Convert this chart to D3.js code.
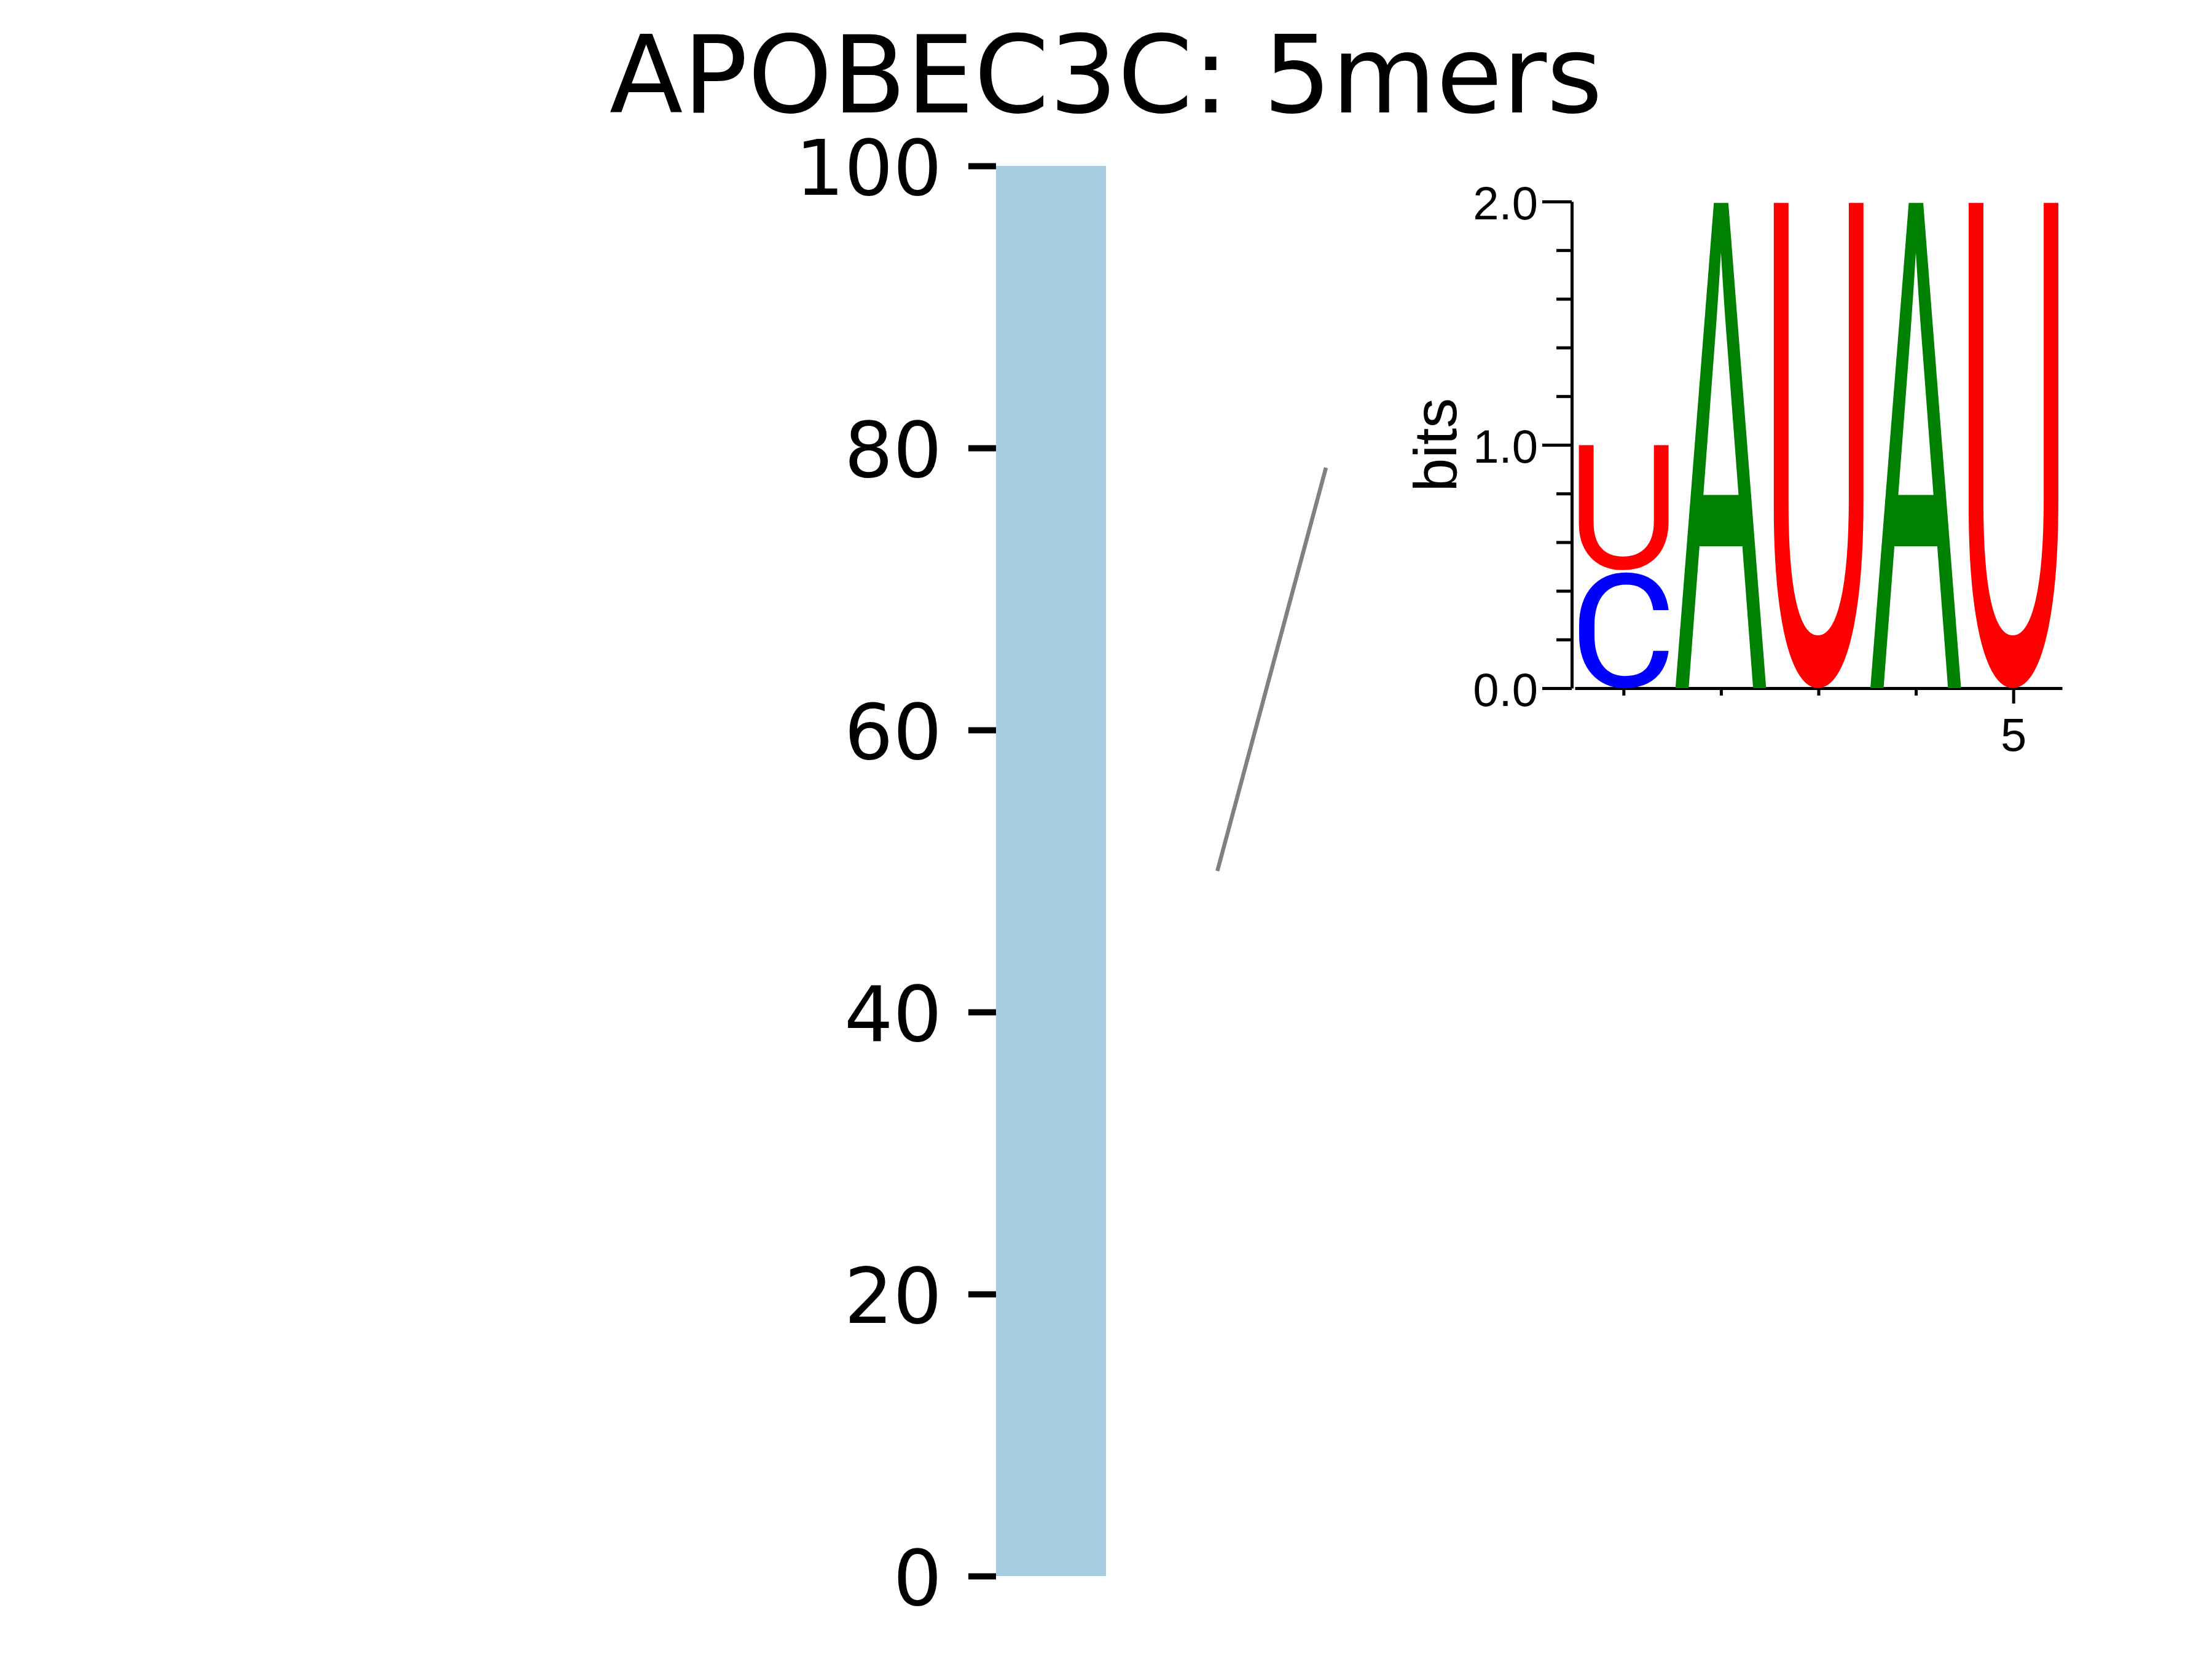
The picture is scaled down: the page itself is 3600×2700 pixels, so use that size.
<html>
<head>
	<meta charset="utf-8">
	<title>APOBEC3C: 5mers</title>
</head>

<style>
body{
	margin: 0;
	background: white;
}
.title{
	font-family: "DejaVu Sans";
	font-size: 175px;
	fill: black;
}
.bar{
	fill: #a6cee3;
}
.mainAxis text{
	font-family: "DejaVu Sans";
	font-size: 125px;
	fill: black;
}
.mainAxis line{
	stroke: black;
	stroke-width: 10px;
}
.logoAxis text{
	font-family: "Liberation Sans";
	font-size: 76px;
	fill: black;
}
.logoAxis line, .logoAxis path{
	stroke: black;
	stroke-width: 5px;
	fill: none;
}
.connector{
	stroke: #808080;
	stroke-width: 6.5px;
}
</style>

<body>

<script src="https://d3js.org/d3.v7.min.js" charset="utf-8"></script>
<script>

// ---- data ----
var title = "APOBEC3C: 5mers";

var barLabels = ["5mers"];
var barHeights = [100];
var yTicks = [0, 20, 40, 60, 80, 100];

// logo: information per position (bits)
var logoPositions = [1, 2, 3, 4, 5];
var bitsA = [0, 2.0, 0, 2.0, 0];
var bitsC = [0.48, 0, 0, 0, 0];
var bitsG = [0, 0, 0, 0, 0];
var bitsU = [0.52, 0, 2.0, 0, 2.0];
var logoYTicks = [0, 1, 2];
var logoYMinorTicks = [0.2, 0.4, 0.6, 0.8, 1.2, 1.4, 1.6, 1.8];
var logoXTicks = [5];
var logoXMinorTicks = [1, 2, 3, 4];

// grey connector line (main axes units)
var connectorX = [1.21, 2.0];
var connectorY = [50, 78.6];

var letterColor = { A: "#008000", C: "#0000ff", G: "#ffa500", U: "#ff0000" };
// closest installed shapes to the original glyphs
var letterFont = { A: "Liberation Sans", C: "Roboto", G: "Liberation Sans", U: "Liberation Sans" };

// ---- layout ----
var width = 3600;
var height = 2700;

var svg = d3.select("body").append("svg")
			.attr("width", width)
			.attr("height", height);

svg.append("text")
	.attr("class", "title")
	.attr("x", width / 2)
	.attr("y", 183)
	.attr("text-anchor", "middle")
	.text(title);

// main bar axes
var xMain = d3.scaleLinear().domain([-0.4, 0.4]).range([1621, 1800]);
var yMain = d3.scaleLinear().domain([0, 100]).range([2565, 270]);

svg.selectAll(".bar")
	.data(barHeights)
	.enter().append("rect")
	.attr("class", "bar")
	.attr("x", function(d, i){ return xMain(i - 0.4); })
	.attr("width", function(d, i){ return xMain(i + 0.4) - xMain(i - 0.4); })
	.attr("y", function(d){ return yMain(d); })
	.attr("height", function(d){ return yMain(0) - yMain(d); });

var mainAxis = svg.append("g")
	.attr("class", "mainAxis")
	.attr("transform", "translate(" + xMain(-0.4) + ",0)")
	.call(d3.axisLeft(yMain).tickValues(yTicks).tickSize(45).tickPadding(43));
mainAxis.select(".domain").remove();
mainAxis.selectAll("text").attr("dy", "0.37em");

svg.append("line")
	.attr("class", "connector")
	.attr("x1", xMain(connectorX[0]))
	.attr("y1", yMain(connectorY[0]))
	.attr("x2", xMain(connectorX[1]))
	.attr("y2", yMain(connectorY[1]));

// logo axes
var xLogo = d3.scaleLinear().domain([0.5, 5.5]).range([2563, 3356]);
var yLogo = d3.scaleLinear().domain([0, 2]).range([1120, 328]);
var ySpineX = 2558;

var gy = svg.append("g")
	.attr("class", "logoAxis")
	.attr("transform", "translate(" + ySpineX + ",0)")
	.call(d3.axisLeft(yLogo).tickValues(logoYTicks).tickFormat(d3.format(".1f"))
		.tickSize(48).tickSizeOuter(0).tickPadding(7));
gy.selectAll("text").attr("dy", "0.37em");

svg.append("g")
	.attr("class", "logoAxis")
	.attr("transform", "translate(" + ySpineX + ",0)")
	.call(d3.axisLeft(yLogo).tickValues(logoYMinorTicks).tickFormat("").tickSize(25))
	.select(".domain").remove();

svg.append("g")
	.attr("class", "logoAxis")
	.attr("transform", "translate(0," + yLogo(0) + ")")
	.call(d3.axisBottom(xLogo).tickValues(logoXTicks).tickFormat(d3.format("d"))
		.tickSize(25).tickSizeOuter(0).tickPadding(23));

svg.append("g")
	.attr("class", "logoAxis")
	.attr("transform", "translate(0," + yLogo(0) + ")")
	.call(d3.axisBottom(xLogo).tickValues(logoXMinorTicks).tickFormat("").tickSize(12))
	.select(".domain").remove();

svg.append("text")
	.attr("class", "logoAxis")
	.attr("transform", "translate(2370," + ((yLogo(0) + yLogo(2)) / 2) + ") rotate(-90)")
	.attr("text-anchor", "middle")
	.style("font-family", "Liberation Sans")
	.style("font-size", "98px")
	.text("bits");

// glyphs: measure ink box of each letter, then stretch it into its stack box
var ctx = document.createElement("canvas").getContext("2d");
var glyphFont = 100;

function inkBox(ch, fam){
	ctx.font = glyphFont + "px '" + fam + "'";
	var m = ctx.measureText(ch);
	return {
		left: -m.actualBoundingBoxLeft,
		right: m.actualBoundingBoxRight,
		top: -m.actualBoundingBoxAscent,
		bottom: m.actualBoundingBoxDescent
	};
}

var glyphs = [];
logoPositions.forEach(function(p, i){
	var col = [
		{ letter: "A", bits: bitsA[i] },
		{ letter: "C", bits: bitsC[i] },
		{ letter: "G", bits: bitsG[i] },
		{ letter: "U", bits: bitsU[i] }
	].filter(function(d){ return d.bits > 0; });
	// smallest at the bottom
	col.sort(function(a, b){ return a.bits - b.bits; });
	var total = d3.sum(col, function(d){ return d.bits; });
	var floor = 0;
	col.forEach(function(d){
		glyphs.push({ pos: p, letter: d.letter, floor: floor, ceil: floor + d.bits, total: total });
		floor += d.bits;
	});
});

var glyphHalfWidth = 0.47;

svg.append("g").selectAll("text")
	.data(glyphs)
	.enter().append("text")
	.style("font-family", function(d){ return letterFont[d.letter]; })
	.style("font-size", glyphFont + "px")
	.attr("fill", function(d){ return letterColor[d.letter]; })
	.attr("transform", function(d){
		var b = inkBox(d.letter, letterFont[d.letter]);
		var x0 = xLogo(d.pos - glyphHalfWidth);
		var x1 = xLogo(d.pos + glyphHalfWidth);
		var y0 = yLogo(d.ceil) + (d.ceil < d.total ? 2 : 0);
		var y1 = yLogo(d.floor) - (d.floor > 0 ? 2 : 0);
		var sx = (x1 - x0) / (b.right - b.left);
		var sy = (y1 - y0) / (b.bottom - b.top);
		return "translate(" + (x0 - b.left * sx) + "," + (y0 - b.top * sy) + ") scale(" + sx + "," + sy + ")";
	})
	.text(function(d){ return d.letter; });

</script>
</body>
</html>
